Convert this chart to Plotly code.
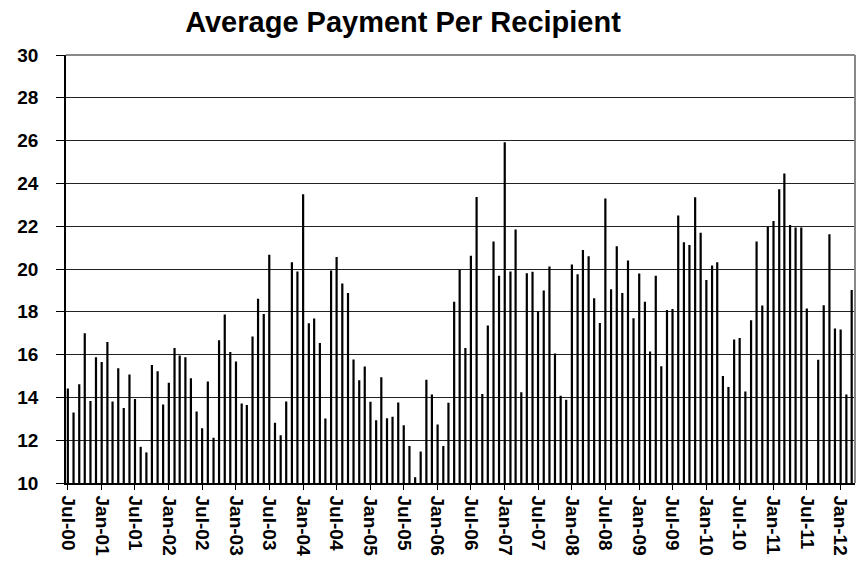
import plotly.graph_objects as go
import pandas as pd

# Monthly categories Jul-2000 .. Mar-2012
months = pd.date_range("2000-07-01", periods=141, freq="MS")

payment = [
    14.42, 13.29, 14.61, 17.00, 13.83, 15.88, 15.65, 16.59, 13.81, 15.36, 13.50, 15.07,
    13.92, 11.69, 11.43, 15.51, 15.22, 13.67, 14.69, 16.31, 15.96, 15.88, 14.89, 13.34,
    12.56, 14.74, 12.12, 16.67, 17.87, 16.12, 15.68, 13.72, 13.65, 16.85, 18.61, 17.90,
    20.67, 12.82, 12.23, 13.81, 20.32, 19.88, 23.49, 17.47, 17.69, 16.54, 13.01, 19.93,
    20.56, 19.32, 18.88, 15.77, 14.80, 15.44, 13.80, 12.93, 14.94, 13.03, 13.09, 13.76,
    12.70, 11.73, 10.27, 11.47, 14.82, 14.13, 12.73, 11.73, 13.75, 18.47, 19.96, 16.31,
    20.62, 23.36, 14.16, 17.36, 21.29, 19.68, 25.92, 19.88, 21.84, 14.24, 19.80, 19.87,
    18.03, 19.00, 20.12, 16.05, 14.08, 13.89, 20.21, 19.75, 20.89, 20.59, 18.63, 17.48,
    23.29, 19.05, 21.06, 18.88, 20.40, 17.70, 19.79, 18.47, 16.15, 19.68, 15.46, 18.08,
    18.13, 22.50, 21.25, 21.12, 23.35, 21.69, 19.49, 20.16, 20.32, 15.00, 14.49, 16.70,
    16.78, 14.28, 17.61, 21.28, 18.30, 21.97, 22.24, 23.73, 24.46, 22.06, 21.94, 21.94,
    18.16, None, 15.76, 18.31, 21.62, 17.22, 17.17, 14.13, 19.02,
]

title_text = "Average Payment Per Recipient"
y_ticks = [10, 12, 14, 16, 18, 20, 22, 24, 26, 28, 30]

FONT = "Liberation Sans, Arial, sans-serif"

fig = go.Figure(
    go.Bar(
        x=months,
        y=payment,
        width=12 * 24 * 3600 * 1000,
        marker=dict(color="black", line=dict(width=0)),
    )
)

fig.update_layout(
    width=858,
    height=571,
    paper_bgcolor="white",
    plot_bgcolor="white",
    showlegend=False,
    margin=dict(l=66, r=3, t=55, b=88, autoexpand=False),
    title=dict(
        text=title_text,
        x=403 / 858,
        xref="container",
        xanchor="center",
        y=1 - 22 / 571,
        yref="container",
        yanchor="middle",
        font=dict(family=FONT, size=29, color="black", weight="bold"),
    ),
    xaxis=dict(
        type="date",
        automargin=False,
        range=["2000-06-21", "2012-03-19"],
        tick0="2000-07-01",
        dtick="M6",
        tickformat="%b-%y",
        tickangle=90,
        ticks="outside",
        ticklen=5,
        tickcolor="black",
        showgrid=False,
        showline=True,
        linecolor="black",
        linewidth=1.5,
        tickfont=dict(family=FONT, size=19, color="black", weight="bold"),
        ticklabelstandoff=2,
    ),
    yaxis=dict(
        automargin=False,
        range=[10, 30],
        tickvals=y_ticks,
        ticks="outside",
        ticklen=8,
        tickcolor="black",
        showgrid=True,
        gridcolor="#222222",
        gridwidth=1,
        showline=True,
        linecolor="black",
        linewidth=1.5,
        zeroline=False,
        tickfont=dict(family=FONT, size=19, color="black", weight="bold"),
        ticklabelstandoff=14,
    ),
    shapes=[
        dict(type="line", xref="paper", yref="paper", x0=0, x1=1, y0=1, y1=1,
             line=dict(color="#888888", width=2)),
        dict(type="line", xref="paper", yref="paper", x0=1, x1=1, y0=0, y1=1,
             line=dict(color="#888888", width=2)),
    ],
)

fig.write_html(
    "out.html",
    config={"displayModeBar": False},
    post_script="document.body.style.margin='0';document.body.style.overflow='hidden';",
)
